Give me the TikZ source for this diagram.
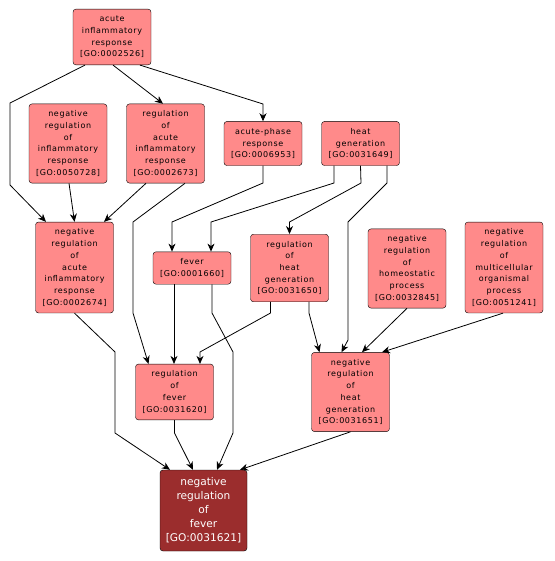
\documentclass[tikz,border=0pt]{standalone}
\usepackage{fontspec}
\setmainfont{DejaVu Sans}
\newfontfamily\gofont[LetterSpace=8]{DejaVu Sans}
\usetikzlibrary{arrows.meta}
\definecolor{GoPink}{HTML}{FF8A8A}
\definecolor{GoDark}{HTML}{9B2D2D}

\tikzset{
    term/.style={draw, rounded corners=3pt, fill=GoPink, minimum width=78pt,
        align=center, inner sep=1pt, font=\gofont\fontsize{8}{11.7}\selectfont},
    lines/.style={minimum height=#1*11.7pt+9pt},
    arr/.style={line width=0.8pt, -{Stealth[length=8pt,width=7pt,inset=2.5pt]}}
}

\begin{document}
\begin{tikzpicture}[x=1pt,y=-1pt]
        \useasboundingbox (0,0) rectangle (554,561);

        % top row
        \node[term,lines=4] (acute) at (112,37) {acute\\inflammatory\\response\\{[GO:0002526]}};
        \node[term,lines=6] (neginfl) at (68,143.5) {negative\\regulation\\of\\inflammatory\\response\\{[GO:0050728]}};
        \node[term,lines=6] (regacute) at (165.5,143.5) {regulation\\of\\acute\\inflammatory\\response\\{[GO:0002673]}};
        \node[term,lines=3] (phase) at (263,143.5) {acute-phase\\response\\{[GO:0006953]}};
        \node[term,lines=3] (heat) at (360.5,143.5) {heat\\generation\\{[GO:0031649]}};

        % middle row
        \node[term,lines=7] (negacute) at (74.5,267.5) {negative\\regulation\\of\\acute\\inflammatory\\response\\{[GO:0002674]}};
        \node[term,lines=2] (fever) at (192,268) {fever\\{[GO:0001660]}};
        \node[term,lines=5] (regheat) at (289.5,268) {regulation\\of\\heat\\generation\\{[GO:0031650]}};
        \node[term,lines=6] (neghomeo) at (407,268.5) {negative\\regulation\\of\\homeostatic\\process\\{[GO:0032845]}};
        \node[term,lines=7] (negmulti) at (504,267.5) {negative\\regulation\\of\\multicellular\\organismal\\process\\{[GO:0051241]}};

        % lower rows
        \node[term,lines=4] (regfever) at (174.5,392) {regulation\\of\\fever\\{[GO:0031620]}};
        \node[term,lines=6] (negheat) at (350.5,392) {negative\\regulation\\of\\heat\\generation\\{[GO:0031651]}};
        \node[term, fill=GoDark, text=white, minimum width=87pt, minimum height=81pt,
            font=\fontsize{10.6}{14}\selectfont] (negfever) at (203.5,510.5)
            {negative\\regulation\\of\\fever\\{[GO:0031621]}};

        % edges
        \draw[arr] ([xshift=-27pt]acute.south) -- (10,103) -- (10,185) -- ([xshift=-28.5pt]negacute.north);
        \draw[arr] ([xshift=1pt]acute.south) -- ([xshift=-2.5pt]regacute.north);
        \draw[arr] ([xshift=28pt]acute.south) -- (263,104) -- (phase.north);
        \draw[arr] ([xshift=1pt]neginfl.south) -- (negacute.north);
        \draw[arr] ([xshift=-19.5pt]regacute.south) -- ([xshift=29.5pt]negacute.north);
        \draw[arr] ([xshift=19.5pt]regacute.south) -- (133,222) -- (133,313) -- ([xshift=-26pt]regfever.north);
        \draw[arr] (phase.south) -- (263,183) -- (172,222) -- ([xshift=-20pt]fever.north);
        \draw[arr] ([xshift=-26.5pt]heat.south) -- (334,183) -- (211,222) -- ([xshift=19pt]fever.north);
        \draw[arr] (heat.south) -- (361,183) -- (289.5,222) -- (regheat.north);
        \draw[arr] ([xshift=26.5pt]heat.south) -- (387,183) -- (348,222) -- (348,340) -- ([xshift=-9pt]negheat.north);
        \draw[arr] ([xshift=-19pt]regheat.south) -- (270.5,313) -- (200,352) -- ([xshift=25.5pt]regfever.north);
        \draw[arr] ([xshift=19.5pt]regheat.south) -- (309,313) -- ([xshift=-31pt]negheat.north);
        \draw[arr] (neghomeo.south) -- ([xshift=11.5pt]negheat.north);
        \draw[arr] ([xshift=-1pt]negmulti.south) -- ([xshift=31.5pt]negheat.north);
        \draw[arr] (fever.south) ++(-18pt,0) -- ([xshift=-0.5pt]regfever.north);
        \draw[arr] ([xshift=20pt]fever.south) -- (212,313) -- (233,352) -- (233,433) -- ([xshift=13.5pt]negfever.north);
        \draw[arr] (negacute.south) -- (115,352) -- (115,433) -- ([xshift=-33.5pt]negfever.north);
        \draw[arr] (regfever.south) -- (174.5,433) -- ([xshift=-10.5pt]negfever.north);
        \draw[arr] (negheat.south) -- ([xshift=36.5pt]negfever.north);

\end{tikzpicture}
\end{document}
